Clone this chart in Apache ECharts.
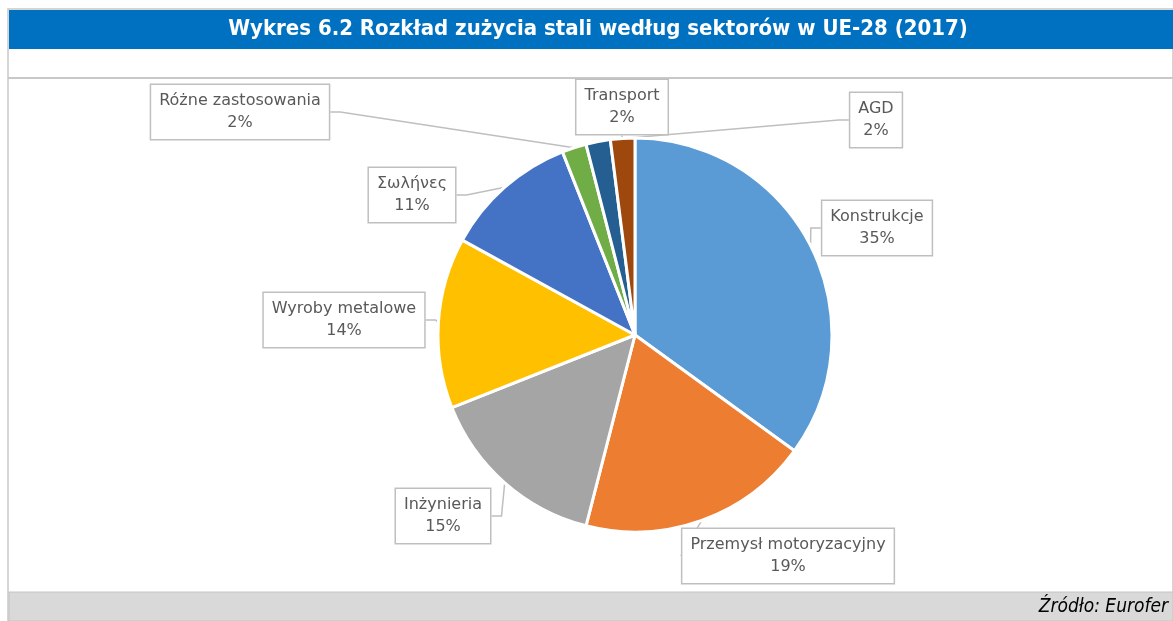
<!DOCTYPE html>
<html>
<head>
<meta charset="utf-8">
<script src="https://cdn.jsdelivr.net/npm/echarts@6/dist/echarts.min.js"></script>
<style>
  html, body { margin: 0; padding: 0; background: #fff; }
  #chart { width: 1173px; height: 621px; }
</style>
</head>
<body>
<div id="chart"></div>
<script>
// sectors, clockwise from 12 o'clock
const sectors = ['Konstrukcje', 'Przemysł motoryzacyjny', 'Inżynieria', 'Wyroby metalowe', 'Σωλήνες', 'Różne zastosowania', 'Transport', 'AGD'];
const shares = [35, 19, 15, 14, 11, 2, 2, 2];
const colors = ['#5B9BD5', '#ED7D31', '#A5A5A5', '#FFC000', '#4472C4', '#70AD47', '#255E91', '#9E480E'];

// label box centres (callout placement)
const labelSpots = [
  [877, 228], [788, 556], [443, 516], [344, 320],
  [412, 195], [240, 112], [622, 107], [876, 120]
];

const chart = echarts.init(document.getElementById('chart'));

const option = {
  animation: false,
  graphic: [
    { type: 'rect', shape: { x: 8, y: 9, width: 1165, height: 612 }, style: { fill: '#fff', stroke: '#c8c8c8', lineWidth: 1.5 }, silent: true },
    { type: 'rect', shape: { x: 9, y: 10, width: 1164, height: 39 }, style: { fill: '#0070C0' }, silent: true },
    { type: 'line', shape: { x1: 8, y1: 78, x2: 1173, y2: 78 }, style: { stroke: '#c8c8c8', lineWidth: 2 }, silent: true },
    { type: 'rect', shape: { x: 9, y: 592, width: 1164, height: 29 }, style: { fill: '#d9d9d9', stroke: '#c4c4c4', lineWidth: 1 }, silent: true },
    {
      type: 'text', x: 598, y: 29,
      style: {
        text: 'Wykres 6.2 Rozkład zużycia stali według sektorów w UE-28 (2017)',
        fill: '#fff', font: 'bold 22px "DejaVu Sans Condensed"',
        align: 'center', verticalAlign: 'middle'
      }
    },
    {
      type: 'text', x: 1168, y: 607,
      style: {
        text: 'Źródło: Eurofer',
        fill: '#000', font: 'italic 19px "DejaVu Sans Condensed"',
        align: 'right', verticalAlign: 'middle'
      }
    }
  ],
  series: [{
    type: 'pie',
    center: [635, 335],
    radius: 197,
    startAngle: 90,
    clockwise: true,
    color: colors,
    itemStyle: { borderColor: '#fff', borderWidth: 3 },
    label: {
      show: true,
      formatter: '{b}\n{c}%',
      color: '#595959',
      fontFamily: 'DejaVu Sans',
      fontSize: 16,
      lineHeight: 22,
      align: 'center',
      backgroundColor: '#fff',
      borderColor: '#bfbfbf',
      borderWidth: 1.5,
      padding: [5, 8, 5, 8]
    },
    labelLine: {
      show: true,
      lineStyle: { color: '#bfbfbf', width: 1.5 },
      length: 10,
      length2: 10
    },
    labelLayout: function (p) {
      const pos = labelSpots[p.dataIndex];
      return { x: pos[0], y: pos[1], align: 'center', verticalAlign: 'middle' };
    },
    data: sectors.map((s, i) => ({ name: s, value: shares[i] }))
  }]
};

chart.setOption(option);
</script>
</body>
</html>
